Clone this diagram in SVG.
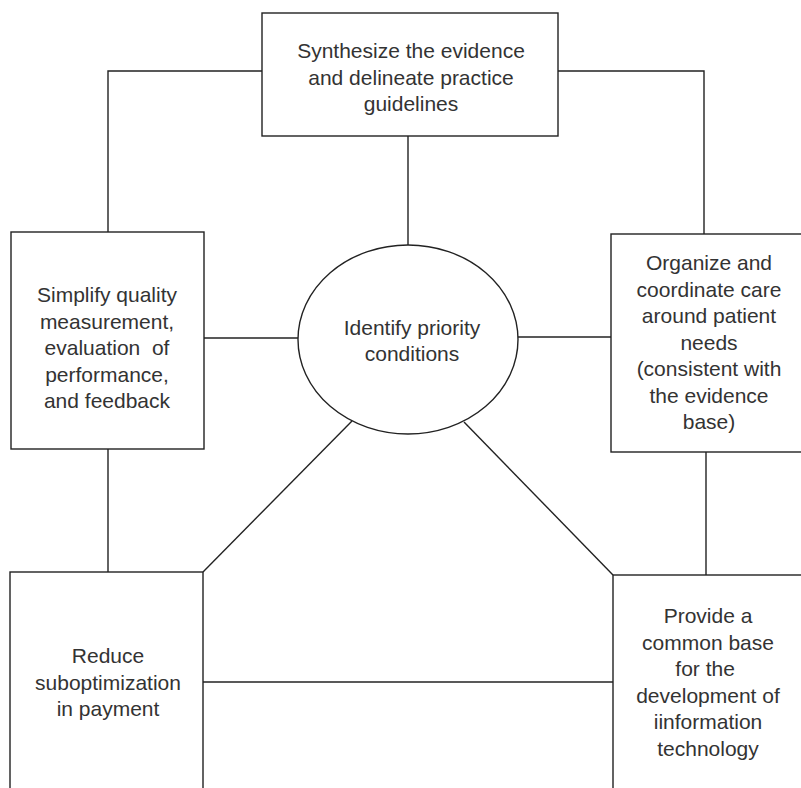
<svg xmlns="http://www.w3.org/2000/svg" width="801" height="788" viewBox="0 0 801 788">
<style>
.box{fill:#fff;stroke:#222;stroke-width:1.4}
.ln{fill:none;stroke:#222;stroke-width:1.4}
text{font-family:"Liberation Sans",Arial,sans-serif;font-size:21px;fill:#333;text-anchor:middle;white-space:pre}
</style>
<rect width="801" height="788" fill="#fff"/>
<g id="connectors">
<polyline class="ln" points="262,71 108,71 108,232"/>
<polyline class="ln" points="558,71 704,71 704,234"/>
<line class="ln" x1="408" y1="136" x2="408" y2="245"/>
<line class="ln" x1="204" y1="338" x2="298" y2="338"/>
<line class="ln" x1="518" y1="337" x2="611" y2="337"/>
<line class="ln" x1="108" y1="449" x2="108" y2="572"/>
<line class="ln" x1="706" y1="452" x2="706" y2="576"/>
<line class="ln" x1="352" y1="421" x2="203" y2="572"/>
<line class="ln" x1="464" y1="422" x2="613" y2="575"/>
<line class="ln" x1="203" y1="682" x2="613" y2="682"/>
</g>
<g id="synthesize">
<rect class="box" x="262" y="13" width="296" height="123"/>
<text x="411" y="58">Synthesize the evidence</text>
<text x="411" y="84.5">and delineate practice</text>
<text x="411" y="111">guidelines</text>
</g>
<g id="identify">
<ellipse class="box" cx="408" cy="339.5" rx="110" ry="94.5"/>
<text x="412" y="335">Identify priority</text>
<text x="412" y="361">conditions</text>
</g>
<g id="simplify">
<rect class="box" x="11" y="232" width="193" height="217"/>
<text x="107" y="302">Simplify quality</text>
<text x="107" y="328.5">measurement,</text>
<text x="107" y="355">evaluation  of</text>
<text x="107" y="381.5">performance,</text>
<text x="107" y="408">and feedback</text>
</g>
<g id="organize">
<rect class="box" x="611" y="234" width="200" height="218"/>
<text x="709" y="270">Organize and</text>
<text x="709" y="296.5">coordinate care</text>
<text x="709" y="323">around patient</text>
<text x="709" y="349.5">needs</text>
<text x="709" y="376">(consistent with</text>
<text x="709" y="402.5">the evidence</text>
<text x="709" y="429">base)</text>
</g>
<g id="reduce">
<rect class="box" x="10" y="572" width="193" height="230"/>
<text x="108" y="663">Reduce</text>
<text x="108" y="689.5">suboptimization</text>
<text x="108" y="716">in payment</text>
</g>
<g id="provide">
<rect class="box" x="613" y="575" width="200" height="230"/>
<text x="708" y="623">Provide a</text>
<text x="708" y="649.5">common base</text>
<text x="708" y="676">for the </text>
<text x="708" y="702.5">development of</text>
<text x="708" y="729">iinformation</text>
<text x="708" y="755.5">technology</text>
</g>
</svg>
